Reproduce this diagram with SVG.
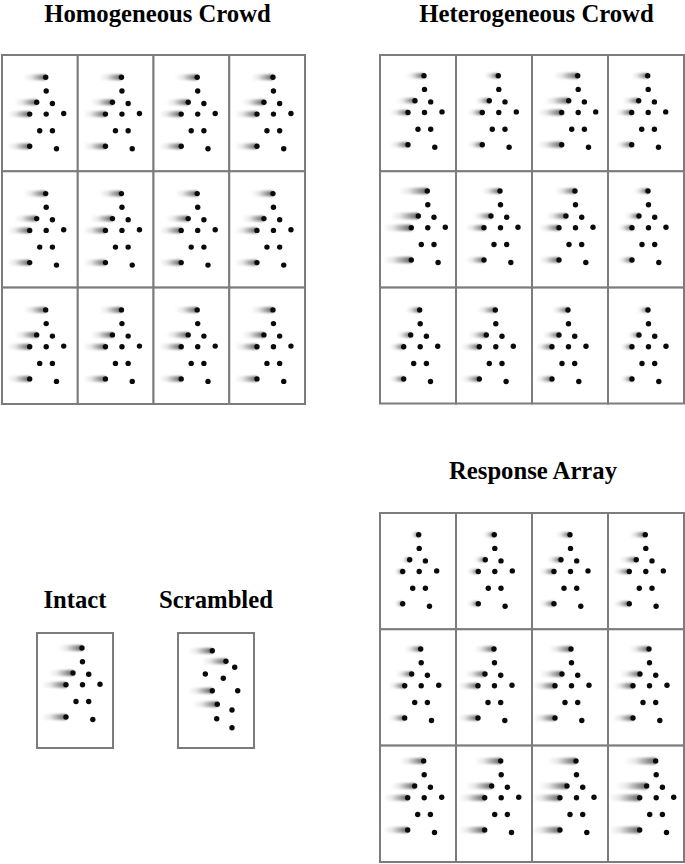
<svg xmlns="http://www.w3.org/2000/svg" xmlns:xlink="http://www.w3.org/1999/xlink" width="685" height="864" viewBox="0 0 685 864">
<style>
.title{font-family:"Liberation Serif","Times New Roman",serif;font-weight:bold;font-size:24.7px;fill:#000;text-anchor:middle}
.cell{fill:#fff;stroke:#7c7c7c;stroke-width:2}
.dot{fill:#0a0a0a}
.tr{fill:url(#tg);filter:url(#bl)}
</style>
<defs>
<linearGradient id="tg" x1="0" y1="0" x2="1" y2="0">
<stop offset="0" stop-color="#000" stop-opacity="0"/>
<stop offset="0.35" stop-color="#000" stop-opacity="0.1"/>
<stop offset="1" stop-color="#000" stop-opacity="0.62"/>
</linearGradient>
<filter id="bl" x="-20%" y="-150%" width="140%" height="400%">
<feGaussianBlur stdDeviation="1"/>
</filter>
<g id="fig">
<circle class="dot" cx="0" cy="0" r="2.7"/>
<circle class="dot" cx="0.5" cy="13.7" r="2.7"/>
<circle class="dot" cx="-9" cy="25" r="2.7"/>
<circle class="dot" cx="6.7" cy="26.2" r="2.7"/>
<circle class="dot" cx="-16" cy="36.8" r="2.7"/>
<circle class="dot" cx="0.5" cy="36.8" r="2.7"/>
<circle class="dot" cx="18" cy="36.2" r="2.7"/>
<circle class="dot" cx="-6" cy="53.5" r="2.7"/>
<circle class="dot" cx="6.7" cy="53.5" r="2.7"/>
<circle class="dot" cx="-16" cy="69" r="2.7"/>
<circle class="dot" cx="10.8" cy="71.5" r="2.7"/>
</g>
<g id="t8"><rect class="tr" x="-8" y="-2.3" width="8" height="4.6"/><rect class="tr" x="-17" y="22.7" width="8" height="4.6"/><rect class="tr" x="-24" y="34.5" width="8" height="4.6"/><rect class="tr" x="-24" y="66.7" width="8" height="4.6"/></g>
<g id="t11"><rect class="tr" x="-11" y="-2.4" width="11" height="4.8"/><rect class="tr" x="-20" y="22.6" width="11" height="4.8"/><rect class="tr" x="-27" y="34.4" width="11" height="4.8"/><rect class="tr" x="-27" y="66.6" width="11" height="4.8"/></g>
<g id="t14"><rect class="tr" x="-14" y="-2.5" width="14" height="5"/><rect class="tr" x="-23" y="22.5" width="14" height="5"/><rect class="tr" x="-30" y="34.3" width="14" height="5"/><rect class="tr" x="-30" y="66.5" width="14" height="5"/></g>
<g id="t16"><rect class="tr" x="-16" y="-2.5" width="16" height="5"/><rect class="tr" x="-25" y="22.5" width="16" height="5"/><rect class="tr" x="-32" y="34.3" width="16" height="5"/><rect class="tr" x="-32" y="66.5" width="16" height="5"/></g>
<g id="t18"><rect class="tr" x="-18" y="-2.6" width="18" height="5.2"/><rect class="tr" x="-27" y="22.4" width="18" height="5.2"/><rect class="tr" x="-34" y="34.2" width="18" height="5.2"/><rect class="tr" x="-34" y="66.4" width="18" height="5.2"/></g>
<g id="t20"><rect class="tr" x="-20" y="-2.7" width="20" height="5.4"/><rect class="tr" x="-29" y="22.3" width="20" height="5.4"/><rect class="tr" x="-36" y="34.1" width="20" height="5.4"/><rect class="tr" x="-36" y="66.3" width="20" height="5.4"/></g>
<g id="t22"><rect class="tr" x="-22" y="-2.8" width="22" height="5.6"/><rect class="tr" x="-31" y="22.2" width="22" height="5.6"/><rect class="tr" x="-38" y="34" width="22" height="5.6"/><rect class="tr" x="-38" y="66.2" width="22" height="5.6"/></g>
<g id="t24"><rect class="tr" x="-24" y="-2.9" width="24" height="5.8"/><rect class="tr" x="-33" y="22.1" width="24" height="5.8"/><rect class="tr" x="-40" y="33.9" width="24" height="5.8"/><rect class="tr" x="-40" y="66.1" width="24" height="5.8"/></g>
<g id="t26"><rect class="tr" x="-26" y="-3" width="26" height="6"/><rect class="tr" x="-35" y="22" width="26" height="6"/><rect class="tr" x="-42" y="33.8" width="26" height="6"/><rect class="tr" x="-42" y="66" width="26" height="6"/></g>
<g id="t28"><rect class="tr" x="-28" y="-3.1" width="28" height="6.2"/><rect class="tr" x="-37" y="21.9" width="28" height="6.2"/><rect class="tr" x="-44" y="33.7" width="28" height="6.2"/><rect class="tr" x="-44" y="65.9" width="28" height="6.2"/></g>
<g id="t31"><rect class="tr" x="-31" y="-3.3" width="31" height="6.6"/><rect class="tr" x="-40" y="21.7" width="31" height="6.6"/><rect class="tr" x="-47" y="33.5" width="31" height="6.6"/><rect class="tr" x="-47" y="65.7" width="31" height="6.6"/></g>
</defs>

<rect width="685" height="864" fill="#fff"/>

<text class="title" x="157.5" y="22">Homogeneous Crowd</text>
<text class="title" x="536.5" y="22">Heterogeneous Crowd</text>
<text class="title" x="533" y="479">Response Array</text>
<text class="title" x="75" y="608">Intact</text>
<text class="title" x="216" y="608">Scrambled</text>

<g id="homogeneous">
<g id="hom-1-1"><rect class="cell" x="2" y="55" width="75.75" height="116.3"/><use href="#t22" x="45.7" y="77.3"/><use href="#fig" x="45.7" y="77.3"/></g>
<g id="hom-1-2"><rect class="cell" x="77.75" y="55" width="75.75" height="116.3"/><use href="#t22" x="121.45" y="77.3"/><use href="#fig" x="121.45" y="77.3"/></g>
<g id="hom-1-3"><rect class="cell" x="153.5" y="55" width="75.75" height="116.3"/><use href="#t22" x="197.2" y="77.3"/><use href="#fig" x="197.2" y="77.3"/></g>
<g id="hom-1-4"><rect class="cell" x="229.25" y="55" width="75.75" height="116.3"/><use href="#t22" x="272.95" y="77.3"/><use href="#fig" x="272.95" y="77.3"/></g>
<g id="hom-2-1"><rect class="cell" x="2" y="171.3" width="75.75" height="116.3"/><use href="#t22" x="45.7" y="193.6"/><use href="#fig" x="45.7" y="193.6"/></g>
<g id="hom-2-2"><rect class="cell" x="77.75" y="171.3" width="75.75" height="116.3"/><use href="#t22" x="121.45" y="193.6"/><use href="#fig" x="121.45" y="193.6"/></g>
<g id="hom-2-3"><rect class="cell" x="153.5" y="171.3" width="75.75" height="116.3"/><use href="#t22" x="197.2" y="193.6"/><use href="#fig" x="197.2" y="193.6"/></g>
<g id="hom-2-4"><rect class="cell" x="229.25" y="171.3" width="75.75" height="116.3"/><use href="#t22" x="272.95" y="193.6"/><use href="#fig" x="272.95" y="193.6"/></g>
<g id="hom-3-1"><rect class="cell" x="2" y="287.6" width="75.75" height="116.4"/><use href="#t22" x="45.7" y="309.9"/><use href="#fig" x="45.7" y="309.9"/></g>
<g id="hom-3-2"><rect class="cell" x="77.75" y="287.6" width="75.75" height="116.4"/><use href="#t22" x="121.45" y="309.9"/><use href="#fig" x="121.45" y="309.9"/></g>
<g id="hom-3-3"><rect class="cell" x="153.5" y="287.6" width="75.75" height="116.4"/><use href="#t22" x="197.2" y="309.9"/><use href="#fig" x="197.2" y="309.9"/></g>
<g id="hom-3-4"><rect class="cell" x="229.25" y="287.6" width="75.75" height="116.4"/><use href="#t22" x="272.95" y="309.9"/><use href="#fig" x="272.95" y="309.9"/></g>
</g>

<g id="heterogeneous">
<g id="het-1-1"><rect class="cell" x="380" y="55" width="76" height="116.3"/><use href="#t18" x="424" y="75.7"/><use href="#fig" x="424" y="75.7"/></g>
<g id="het-1-2"><rect class="cell" x="456" y="55" width="76" height="116.3"/><use href="#t14" x="498.3" y="75.7"/><use href="#fig" x="498.3" y="75.7"/></g>
<g id="het-1-3"><rect class="cell" x="532" y="55" width="76" height="116.3"/><use href="#t24" x="577.7" y="75.7"/><use href="#fig" x="577.7" y="75.7"/></g>
<g id="het-1-4"><rect class="cell" x="608" y="55" width="76" height="116.3"/><use href="#t16" x="647.7" y="75.7"/><use href="#fig" x="647.7" y="75.7"/></g>
<g id="het-2-1"><rect class="cell" x="380" y="171.3" width="76" height="116.3"/><use href="#t28" x="427.3" y="191"/><use href="#fig" x="427.3" y="191"/></g>
<g id="het-2-2"><rect class="cell" x="456" y="171.3" width="76" height="116.3"/><use href="#t18" x="500" y="191"/><use href="#fig" x="500" y="191"/></g>
<g id="het-2-3"><rect class="cell" x="532" y="171.3" width="76" height="116.3"/><use href="#t20" x="575" y="191"/><use href="#fig" x="575" y="191"/></g>
<g id="het-2-4"><rect class="cell" x="608" y="171.3" width="76" height="116.3"/><use href="#t14" x="648" y="191"/><use href="#fig" x="648" y="191"/></g>
<g id="het-3-1"><rect class="cell" x="380" y="287.6" width="76" height="115.9"/><use href="#t14" x="419.7" y="310"/><use href="#fig" x="419.7" y="310"/></g>
<g id="het-3-2"><rect class="cell" x="456" y="287.6" width="76" height="115.9"/><use href="#t18" x="495.3" y="310"/><use href="#fig" x="495.3" y="310"/></g>
<g id="het-3-3"><rect class="cell" x="532" y="287.6" width="76" height="115.9"/><use href="#t16" x="568" y="310"/><use href="#fig" x="568" y="310"/></g>
<g id="het-3-4"><rect class="cell" x="608" y="287.6" width="76" height="115.9"/><use href="#t11" x="648" y="310"/><use href="#fig" x="648" y="310"/></g>
</g>

<g id="intact">
<rect class="cell" x="37" y="633" width="76" height="115"/>
<use href="#t24" x="82" y="648"/><use href="#fig" x="82" y="648"/>
</g>

<g id="scrambled">
<rect class="cell" x="178" y="633" width="76" height="115"/>
<rect class="tr" x="188.3" y="648" width="24" height="5.6"/>
<rect class="tr" x="202" y="658.5" width="24" height="5.6"/>
<rect class="tr" x="188.3" y="687.9" width="24" height="5.6"/>
<rect class="tr" x="193.3" y="701.5" width="24" height="5.6"/>
<circle class="dot" cx="212.3" cy="650.7" r="2.7"/>
<circle class="dot" cx="226" cy="661.3" r="2.7"/>
<circle class="dot" cx="234.7" cy="667.3" r="2.7"/>
<circle class="dot" cx="205.3" cy="674" r="2.7"/>
<circle class="dot" cx="223.3" cy="678.3" r="2.7"/>
<circle class="dot" cx="212.3" cy="690.7" r="2.7"/>
<circle class="dot" cx="237.7" cy="690.7" r="2.7"/>
<circle class="dot" cx="217.3" cy="704.3" r="2.7"/>
<circle class="dot" cx="232" cy="710" r="2.7"/>
<circle class="dot" cx="216.7" cy="718.7" r="2.7"/>
<circle class="dot" cx="232" cy="727.7" r="2.7"/>
</g>

<g id="response">
<g id="res-1-1"><rect class="cell" x="380" y="513" width="76" height="116.3"/><use href="#t8" x="418.7" y="534.7"/><use href="#fig" x="418.7" y="534.7"/></g>
<g id="res-1-2"><rect class="cell" x="456" y="513" width="76" height="116.3"/><use href="#t11" x="494.3" y="534.7"/><use href="#fig" x="494.3" y="534.7"/></g>
<g id="res-1-3"><rect class="cell" x="532" y="513" width="76" height="116.3"/><use href="#t14" x="570" y="534.7"/><use href="#fig" x="570" y="534.7"/></g>
<g id="res-1-4"><rect class="cell" x="608" y="513" width="76" height="116.3"/><use href="#t16" x="645.3" y="534.7"/><use href="#fig" x="645.3" y="534.7"/></g>
<g id="res-2-1"><rect class="cell" x="380" y="629.3" width="76" height="116.3"/><use href="#t16" x="420.7" y="649"/><use href="#fig" x="420.7" y="649"/></g>
<g id="res-2-2"><rect class="cell" x="456" y="629.3" width="76" height="116.3"/><use href="#t20" x="494" y="649"/><use href="#fig" x="494" y="649"/></g>
<g id="res-2-3"><rect class="cell" x="532" y="629.3" width="76" height="116.3"/><use href="#t22" x="571" y="649"/><use href="#fig" x="571" y="649"/></g>
<g id="res-2-4"><rect class="cell" x="608" y="629.3" width="76" height="116.3"/><use href="#t20" x="649" y="649"/><use href="#fig" x="649" y="649"/></g>
<g id="res-3-1"><rect class="cell" x="380" y="745.6" width="76" height="116.4"/><use href="#t24" x="423.7" y="761"/><use href="#fig" x="423.7" y="761"/></g>
<g id="res-3-2"><rect class="cell" x="456" y="745.6" width="76" height="116.4"/><use href="#t26" x="500.7" y="761"/><use href="#fig" x="500.7" y="761"/></g>
<g id="res-3-3"><rect class="cell" x="532" y="745.6" width="76" height="116.4"/><use href="#t28" x="576" y="761"/><use href="#fig" x="576" y="761"/></g>
<g id="res-3-4"><rect class="cell" x="608" y="745.6" width="76" height="116.4"/><use href="#t31" x="655.7" y="761"/><use href="#fig" x="655.7" y="761"/></g>
</g>

<g id="connectors"/>
</svg>
